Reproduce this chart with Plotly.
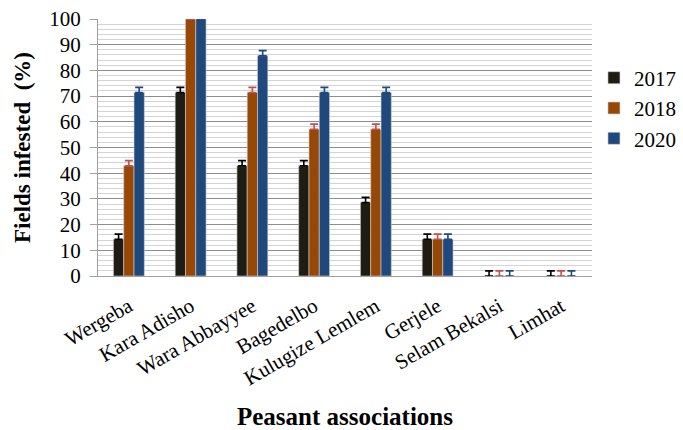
import plotly.graph_objects as go

categories = ["Wergeba", "Kara Adisho", "Wara Abbayyee", "Bagedelbo",
              "Kulugize Lemlem", "Gerjele", "Selam Bekalsi", "Limhat"]
years = ["2017", "2018", "2020"]
v2017 = [14.3, 71.4, 42.9, 42.9, 28.6, 14.3, 0, 0]
v2018 = [42.9, 100, 71.4, 57.1, 57.1, 14.3, 0, 0]
v2020 = [71.4, 100, 85.7, 71.4, 71.4, 14.3, 0, 0]
err_plus = [2, 2, 2, 2, 2, 2, 2, 2]

series = [v2017, v2018, v2020]
bar_colors = ["#1f1c14", "#974706", "#1f497d"]
err_colors = ["#000000", "#c0504d", "#1f497d"]

FONT = "Times New Roman, Liberation Serif, serif"

fig = go.Figure()
for name, vals, bc, ec in zip(years, series, bar_colors, err_colors):
    fig.add_trace(go.Bar(
        x=categories, y=vals, name=name,
        marker=dict(color=bc, line=dict(color="#d0d0d0", width=0.6)),
        error_y=dict(type="data", symmetric=False, array=err_plus,
                     arrayminus=[0] * len(vals), color=ec,
                     thickness=1.6, width=4),
    ))

fig.update_layout(
    width=683, height=430,
    margin=dict(l=98, r=91, t=19, b=154, autoexpand=False),
    paper_bgcolor="white", plot_bgcolor="white",
    barmode="group", bargap=0.5, bargroupgap=0,
    font=dict(family=FONT, color="black"),
    showlegend=True,
    legend=dict(x=1.004, xanchor="left", y=0.85, yanchor="top",
                font=dict(family=FONT, size=21), itemwidth=30,
                bgcolor="rgba(0,0,0,0)"),
)
fig.update_xaxes(
    automargin=False,
    tickangle=-30, tickfont=dict(family=FONT, size=21),
    showline=True, linecolor="#a0a0a0", linewidth=1,
    showgrid=False, ticks="", ticklabelstandoff=9,
    title=dict(text="<b>Peasant associations</b>",
               font=dict(family=FONT, size=25), standoff=43),
)
fig.update_yaxes(
    automargin=False,
    range=[0, 100], dtick=10, tick0=0,
    tickfont=dict(family=FONT, size=21),
    showline=True, linecolor="#a0a0a0", linewidth=1,
    ticks="outside", ticklen=7, tickcolor="#a0a0a0",
    ticklabelstandoff=5,
    showgrid=True, gridcolor="#8c8c8c", gridwidth=1,
    minor=dict(dtick=2, showgrid=True, gridcolor="#d4d4d4", gridwidth=1),
    zeroline=False,
    title=dict(text="<b>Fields infested  (%)</b>",
               font=dict(family=FONT, size=23), standoff=12),
)

fig.write_html("out.html", config={"displayModeBar": False},
               post_script="document.body.style.margin='0px';document.body.style.overflow='hidden';")
